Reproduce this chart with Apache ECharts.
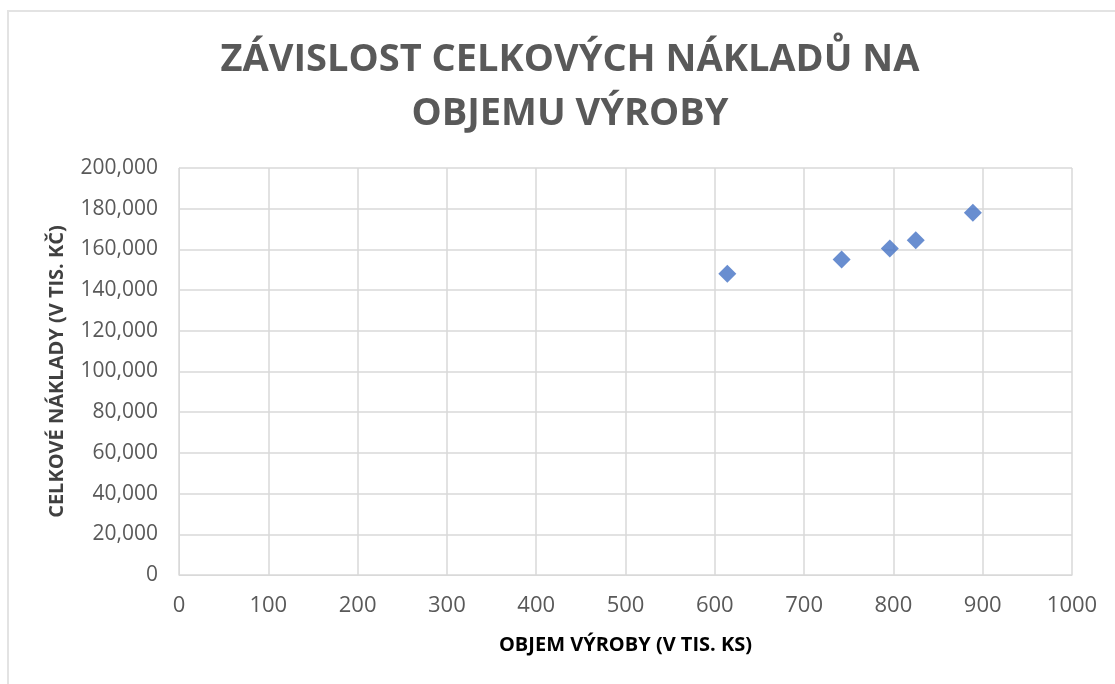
<!DOCTYPE html>
<html><head><meta charset="utf-8">
<script src="https://cdn.jsdelivr.net/npm/echarts@6/dist/echarts.min.js"></script>
<style>html,body{margin:0;padding:0;background:#fff}#c{width:1115px;height:684px}</style>
</head><body><div id="c"></div>
<script>
const objem = [614, 742, 796, 825, 889];
const naklady = [148000, 155000, 160500, 164500, 178000];
const titleText = 'ZÁVISLOST CELKOVÝCH NÁKLADŮ NA\nOBJEMU VÝROBY';
const xName = 'OBJEM VÝROBY (V TIS. KS)';
const yName = 'CELKOVÉ NÁKLADY (V TIS. KČ)';

const chart = echarts.init(document.getElementById('c'));
const font = '"Open Sans", "Liberation Sans", sans-serif';
chart.setOption({
  animation: false,
  graphic: [{type:'rect', shape:{x:8,y:11,width:1120,height:700}, style:{fill:'none', stroke:'#e3e3e3', lineWidth:2}, silent:true}],
  title: {
    text: titleText, left: 565, top: 28, textAlign: 'center',
    textStyle: {fontFamily: font, fontWeight: 'bold', fontSize: 38, color: '#595959', lineHeight: 54}
  },
  grid: {left: 179, right: 43, top: 168, bottom: 109},
  xAxis: {
    type: 'value', min: 0, max: 1000, interval: 100,
    name: xName, nameLocation: 'middle', nameGap: 60,
    nameTextStyle: {fontFamily: font, fontWeight: 'bold', fontSize: 20, color: '#000'},
    axisLine: {show: true, lineStyle: {color: '#d9d9d9', width: 1}},
    axisTick: {show: false},
    splitLine: {show: true, lineStyle: {color: '#d9d9d9', width: 1.5}},
    axisLabel: {fontFamily: font, fontSize: 22, color: '#595959', margin: 20,
      formatter: v => String(v)}
  },
  yAxis: {
    type: 'value', min: 0, max: 200000, interval: 20000,
    name: yName, nameLocation: 'middle', nameGap: 112,
    nameTextStyle: {fontFamily: font, fontWeight: 'bold', fontSize: 20, color: '#404040'},
    axisLine: {show: true, lineStyle: {color: '#d9d9d9', width: 1}},
    axisTick: {show: false},
    splitLine: {show: true, lineStyle: {color: '#d9d9d9', width: 1.5}},
    axisLabel: {fontFamily: font, fontSize: 21, color: '#595959', margin: 21,
      formatter: v => v.toLocaleString('en-US')}
  },
  series: [{
    type: 'scatter', symbol: 'diamond', symbolSize: 18,
    itemStyle: {color: '#4472C4'},
    data: objem.map((x, i) => [x, naklady[i]])
  }]
});
</script></body></html>
